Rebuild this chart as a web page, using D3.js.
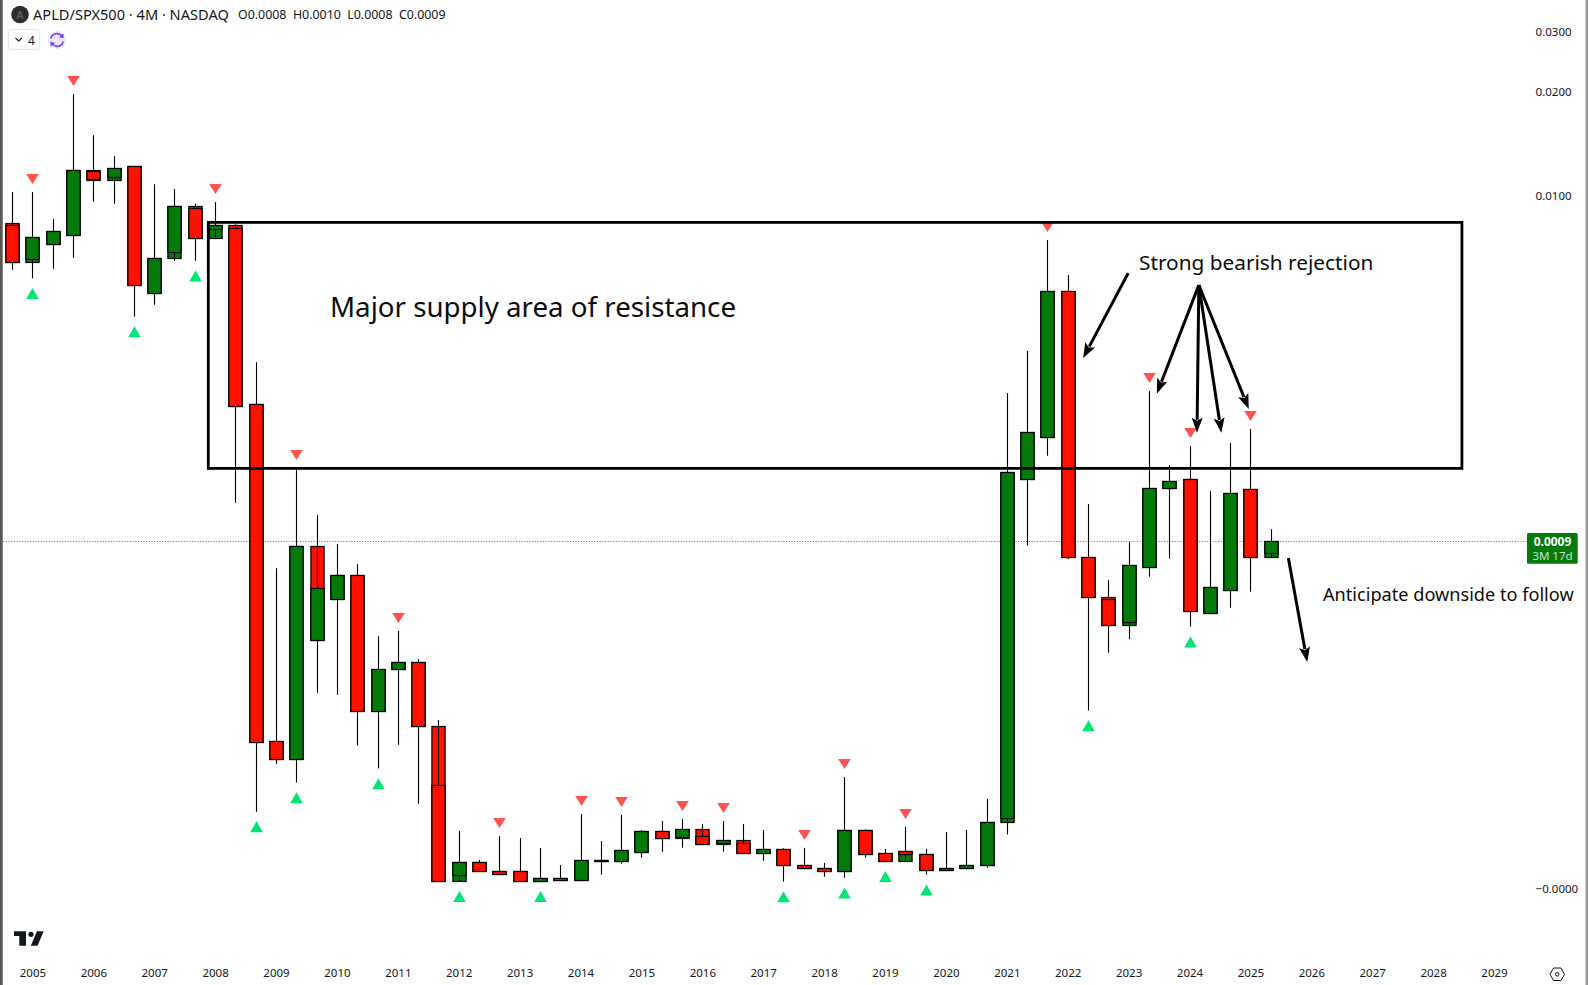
<!DOCTYPE html>
<html><head><meta charset="utf-8">
<script src="https://cdn.jsdelivr.net/npm/d3@7"></script>
<style>
html,body{margin:0;padding:0;background:#fff;overflow:hidden}
svg{display:block}
text{font-family:"Noto Sans","Open Sans",sans-serif}
</style></head><body>
<svg id="c" width="1588" height="985"></svg>
<script>
// ---------- data ----------
const periods = ["2004-09","2005-01","2005-05","2005-09","2006-01","2006-05","2006-09","2007-01","2007-05","2007-09","2008-01","2008-05","2008-09","2009-01","2009-05","2009-09","2010-01","2010-05","2010-09","2011-01","2011-05","2011-09","2012-01","2012-05","2012-09","2013-01","2013-05","2013-09","2014-01","2014-05","2014-09","2015-01","2015-05","2015-09","2016-01","2016-05","2016-09","2017-01","2017-05","2017-09","2018-01","2018-05","2018-09","2019-01","2019-05","2019-09","2020-01","2020-05","2020-09","2021-01","2021-05","2021-09","2022-01","2022-05","2022-09","2023-01","2023-05","2023-09","2024-01","2024-05","2024-09","2025-01","2025-05"];
const open = [.00829,.00637,.00719,.00764,.01183,.01107,.01216,.00517,.00655,.00929,.00749,.00818,.00242,.0001665,.000137,.000878,.000587,.000706,.000226,.000331,.000352,.000195,.0000053,.0000194,.0000125,.0000125,.0000053,.0000074,.0000060,.0000202,.0000202,.0000277,.0000468,.0000401,.0000488,.0000346,.0000383,.0000268,.0000302,.0000171,.0000148,.0000125,.0000478,.0000268,.0000202,.0000260,.0000133,.0000148,.0000171,.0000560,.001426,.00192,.005239,.000809,.000597,.000478,.000750,.001339,.001427,.000526,.000630,.001329,.000809];
const close = [.00637,.00754,.00785,.01183,.01107,.01200,.00545,.00655,.00929,.00749,.00818,.00238,.0001665,.000137,.000875,.000423,.000706,.000226,.000331,.000352,.000195,.0000053,.0000194,.0000125,.0000103,.0000053,.0000074,.0000060,.0000210,.0000210,.0000294,.0000468,.0000401,.0000488,.0000346,.0000383,.0000268,.0000302,.0000171,.0000148,.0000125,.0000478,.0000260,.0000202,.0000285,.0000133,.0000148,.0000171,.0000559,.001499,.001987,.005239,.000809,.000597,.000478,.000762,.001339,.001407,.000535,.000644,.001291,.000809,.000911];
const high = [.01023,.01023,.00853,.01973,.01499,.01303,.01216,.01079,.01044,.00948,.00957,.00825,.00323,.000746,.001547,.001104,.000893,.000769,.000438,.000457,.000362,.000208,.0000471,.0000213,.0000423,.0000404,.0000314,.0000173,.0000647,.0000376,.0000636,.0000481,.0000572,.0000593,.0000541,.0000572,.0000541,.0000481,.0000311,.0000314,.0000189,.0001107,.0000488,.0000305,.0000511,.0000305,.0000461,.0000481,.000082,.002614,.003491,.007416,.005851,.001197,.000682,.000908,.002648,.00158,.001806,.001313,.001844,.002034,.000997];
const low = [.00606,.00572,.00610,.00657,.00959,.00946,.00441,.00478,.00644,.00644,.00756,.001207,.0000673,.000130,.000103,.000269,.000264,.000160,.000123,.000161,.0000764,.0000053,.0000053,.0000125,.0000103,.0000053,.0000053,.0000060,.0000060,.0000100,.0000183,.0000232,.0000282,.0000316,.0000346,.0000282,.0000268,.0000207,.0000050,.0000140,.0000085,.0000078,.0000232,.0000202,.0000202,.0000100,.0000133,.0000140,.0000152,.0000437,.000883,.001687,.000799,.000228,.000382,.000427,.000699,.000801,.000473,.000526,.000550,.000623,.000809];
// second body layered over some bars
const innerBars  = [0,1,4,5,8,9,10,11,15,21,22,33,34,35,36,44,49,54,55,62];
const innerOpen  = [.00818,.00650,.01172,.01129,.00682,.00914,.00798,.00799,.000423,.0000994,.0000095,.0000411,.0000420,.0000355,.0000355,.0000285,.0000602,.000587,.000490,.000833];
const innerClose = [.00637,.00754,.01107,.01200,.00929,.00749,.00818,.00238,.000640,.0000053,.0000194,.0000488,.0000346,.0000383,.0000268,.0000260,.001499,.000478,.000762,.000911];
const sellBars = [1,3,10,14,19,24,28,30,33,35,39,41,44,51,56,58,61];
const buyBars  = [1,6,9,12,14,18,22,26,38,41,43,45,53,58];
const yearTicks = [2005,2006,2007,2008,2009,2010,2011,2012,2013,2014,2015,2016,2017,2018,2019,2020,2021,2022,2023,2024,2025,2026,2027,2028,2029];
const priceTicks = [0.03,0.02,0.01,-0.0000001];
const priceTickLabels = ["0.0300","0.0200","0.0100","\u22120.0000"];
const lastPrice = 0.000911;
const zoneYears = [2007.885,2028.47];
const zonePrices = [0.008344,0.001543];
const arrowYears  = [[2022.99,2022.25],[2024.15,2023.46],[2024.15,2024.12],[2024.15,2024.52],[2024.15,2024.97],[2025.62,2025.93]];
const arrowPrices = [[0.005926,0.003323],[0.005464,0.002599],[0.005464,0.001982],[0.005464,0.001982],[0.005464,0.002338],[0.000805,0.000353]];

// ---------- scales ----------
const svg = d3.select("#c");
const RED="#ff1100", GREEN="#047a0a";
const x = d3.scaleLinear().domain([2005,2029]).range([32.6,1494.2]);
const y = d3.scaleSymlog().constant(0.0001).domain([0,0.01]).range([889,195.5]);
const yearOf = p => { const [a,b]=p.split("-").map(Number); return a+(b-1)/12; };
const px = i => Math.round(x(yearOf(periods[i]))-0.2);
const snap = v => Math.round(v)+0.5;

// ---------- frame + price line ----------
svg.append("rect").attr("width",1588).attr("height",985).attr("fill","#fff");
svg.append("rect").attr("x",0).attr("y",0).attr("width",2.7).attr("height",985).attr("fill","#555");
svg.append("rect").attr("x",1585.6).attr("y",0).attr("width",2.4).attr("height",985).attr("fill","#9a9a9a");
svg.append("line").attr("x1",3).attr("x2",1527).attr("y1",snap(y(lastPrice))).attr("y2",snap(y(lastPrice)))
  .attr("stroke","#1f8a7d").attr("stroke-width",1).attr("stroke-dasharray","1,1.7");

// ---------- candles ----------
const BW=13.2;
const bars = svg.append("g").selectAll("g").data(periods.map((p,i)=>i)).join("g");
const bodyRect = (sel,oF,cF) => sel
  .attr("x",i=>px(i)+.5-BW/2).attr("width",BW)
  .attr("y",i=>snap(y(Math.max(oF(i),cF(i)))-.5))
  .attr("height",i=>Math.max(.5,Math.round(y(Math.min(oF(i),cF(i)))-y(Math.max(oF(i),cF(i))))))
  .attr("fill",i=>cF(i)>=oF(i)?GREEN:RED)
  .attr("stroke","#000").attr("stroke-width",1.2);
bodyRect(bars.append("rect"),i=>open[i],i=>close[i]);
bars.append("line").attr("x1",i=>px(i)+.5).attr("x2",i=>px(i)+.5)
  .attr("y1",i=>y(high[i])).attr("y2",i=>y(low[i])).attr("stroke","#000").attr("stroke-width",1.1);
const innerOf = i => innerBars.indexOf(i);
bodyRect(bars.append("rect"),
  i=>innerOf(i)>=0?innerOpen[innerOf(i)]:open[i],
  i=>innerOf(i)>=0?innerClose[innerOf(i)]:close[i]);

// ---------- pivot markers ----------
const tri = (cx,tipY,baseY)=>`M${cx-6.3},${baseY}L${cx+6.3},${baseY}L${cx},${tipY}Z`;
svg.append("g").selectAll("path").data(sellBars).join("path")
  .attr("d",i=>{const t=y(high[i])-8;return tri(px(i)+.5,t,t-10);}).attr("fill","#ff5252");
svg.append("g").selectAll("path").data(buyBars).join("path")
  .attr("d",i=>{const t=y(low[i])+9.7;return tri(px(i)+.5,t,t+11);}).attr("fill","#00e676");

// ---------- annotations ----------
svg.append("rect")
  .attr("x",x(zoneYears[0])).attr("y",y(zonePrices[0]))
  .attr("width",x(zoneYears[1])-x(zoneYears[0])).attr("height",y(zonePrices[1])-y(zonePrices[0]))
  .attr("fill","none").attr("stroke","#000").attr("stroke-width",2.8);
const arrows = svg.append("g");
arrowYears.forEach((ax,k)=>{
  const x1=x(ax[0]),x2=x(ax[1]),y1=y(arrowPrices[k][0]),y2=y(arrowPrices[k][1]);
  const L=Math.hypot(x2-x1,y2-y1),ux=(x2-x1)/L,uy=(y2-y1)/L,nx=-uy,ny=ux;
  const H=15,W=5.5,N=3;
  arrows.append("line").attr("x1",x1).attr("y1",y1).attr("x2",x2-ux*(H-2)).attr("y2",y2-uy*(H-2))
    .attr("stroke","#000").attr("stroke-width",3).attr("stroke-linecap","butt");
  arrows.append("path").attr("fill","#000").attr("d",
    `M${x2},${y2}L${x2-ux*H+nx*W},${y2-uy*H+ny*W}L${x2-ux*(H-N)},${y2-uy*(H-N)}L${x2-ux*H-nx*W},${y2-uy*H-ny*W}Z`);
});
const note=(t,tx,ty,fs)=>svg.append("text").attr("x",tx).attr("y",ty).attr("font-size",fs).attr("fill","#0d0d0d").text(t);
note("Major supply area of resistance",330,317,27.7);
note("Strong bearish rejection",1139,270,20.8);
note("Anticipate downside to follow",1323,601,18.15);

// ---------- axes ----------
const yAxis = d3.axisRight(y).tickValues(priceTicks).tickSize(0).tickPadding(0)
  .tickFormat((d,i)=>priceTickLabels[i]);
const gy = svg.append("g").attr("transform","translate(1535.6,0)").call(yAxis);
gy.select(".domain").remove();
gy.selectAll("text").attr("text-anchor","start").attr("x",0).attr("font-size",11.5)
  .attr("font-family",'"Noto Sans",sans-serif').attr("fill","#131722");
const xAxis = d3.axisBottom(x).tickValues(yearTicks).tickSize(0).tickPadding(0).tickFormat(d3.format("d"));
const gx = svg.append("g").attr("transform","translate(-0.2,969)").call(xAxis);
gx.select(".domain").remove();
gx.selectAll("text").attr("font-size",11.5).attr("font-family",'"Noto Sans",sans-serif').attr("fill","#131722");

// ---------- price tag ----------
svg.append("rect").attr("x",1527).attr("y",533).attr("width",50.7).attr("height",30.7).attr("rx",1.5).attr("fill",GREEN);
svg.append("text").attr("x",1552.5).attr("y",546).attr("text-anchor","middle").attr("font-size",12).attr("font-weight",700).attr("fill","#fff").text(d3.format(".4f")(lastPrice));
svg.append("text").attr("x",1552.5).attr("y",560).attr("text-anchor","middle").attr("font-size",11.5).attr("fill","#c9e3ca").text("3M 17d");

// ---------- header ----------
svg.append("circle").attr("cx",20).attr("cy",14.5).attr("r",8.8).attr("fill","#2e2e2e");
svg.append("text").attr("x",20).attr("y",18.5).attr("text-anchor","middle").attr("font-size",11).attr("fill","#6b6b6b").text("A");
svg.append("text").attr("x",33).attr("y",19.5).attr("font-size",14.6).attr("fill","#131722").text("APLD/SPX500 \u00b7 4M \u00b7 NASDAQ");
svg.append("text").attr("x",238).attr("y",19).attr("font-size",12.4).attr("fill","#131722").attr("xml:space","preserve").text("O0.0008  H0.0010  L0.0008  C0.0009");
svg.append("rect").attr("x",8.5).attr("y",29.5).attr("width",31).attr("height",20).attr("rx",3).attr("fill","#fff").attr("stroke","#e0e3eb");
svg.append("path").attr("d","M15.5,38L18.8,41L22,38").attr("fill","none").attr("stroke","#131722").attr("stroke-width",1.1);
svg.append("text").attr("x",28).attr("y",44.5).attr("font-size",12).attr("fill","#131722").text("4");
svg.append("circle").attr("cx",57).attr("cy",40).attr("r",9).attr("fill","#ede6fd");
svg.append("path").attr("d","M50.8,38.5A6.3,6.3 0 0 1 62,36.2M63.2,41.5A6.3,6.3 0 0 1 52,43.8").attr("fill","none").attr("stroke","#7b3ff2").attr("stroke-width",1.6);
svg.append("path").attr("d","M63.3,33.2L63.6,38.2L59,37.2ZM50.7,46.8L50.4,41.8L55,42.8Z").attr("fill","#7b3ff2");

// ---------- logo + settings ----------
const logo=svg.append("g").attr("fill","#131722");
logo.append("path").attr("d","M14,931.3H26V945.7H19.3V936H14Z");
logo.append("circle").attr("cx",31).attr("cy",934.3).attr("r",2.6);
logo.append("path").attr("d","M37,931.3H43.7L37.5,945.7H30.8Z");
svg.append("path").attr("d","M1550,974.3L1553.5,968H1561L1564.5,974.3L1561,980.5H1553.5Z").attr("fill","none").attr("stroke","#131722").attr("stroke-width",1);
svg.append("circle").attr("cx",1557.2).attr("cy",974.3).attr("r",1.8).attr("fill","none").attr("stroke","#131722");
</script>
</body></html>
